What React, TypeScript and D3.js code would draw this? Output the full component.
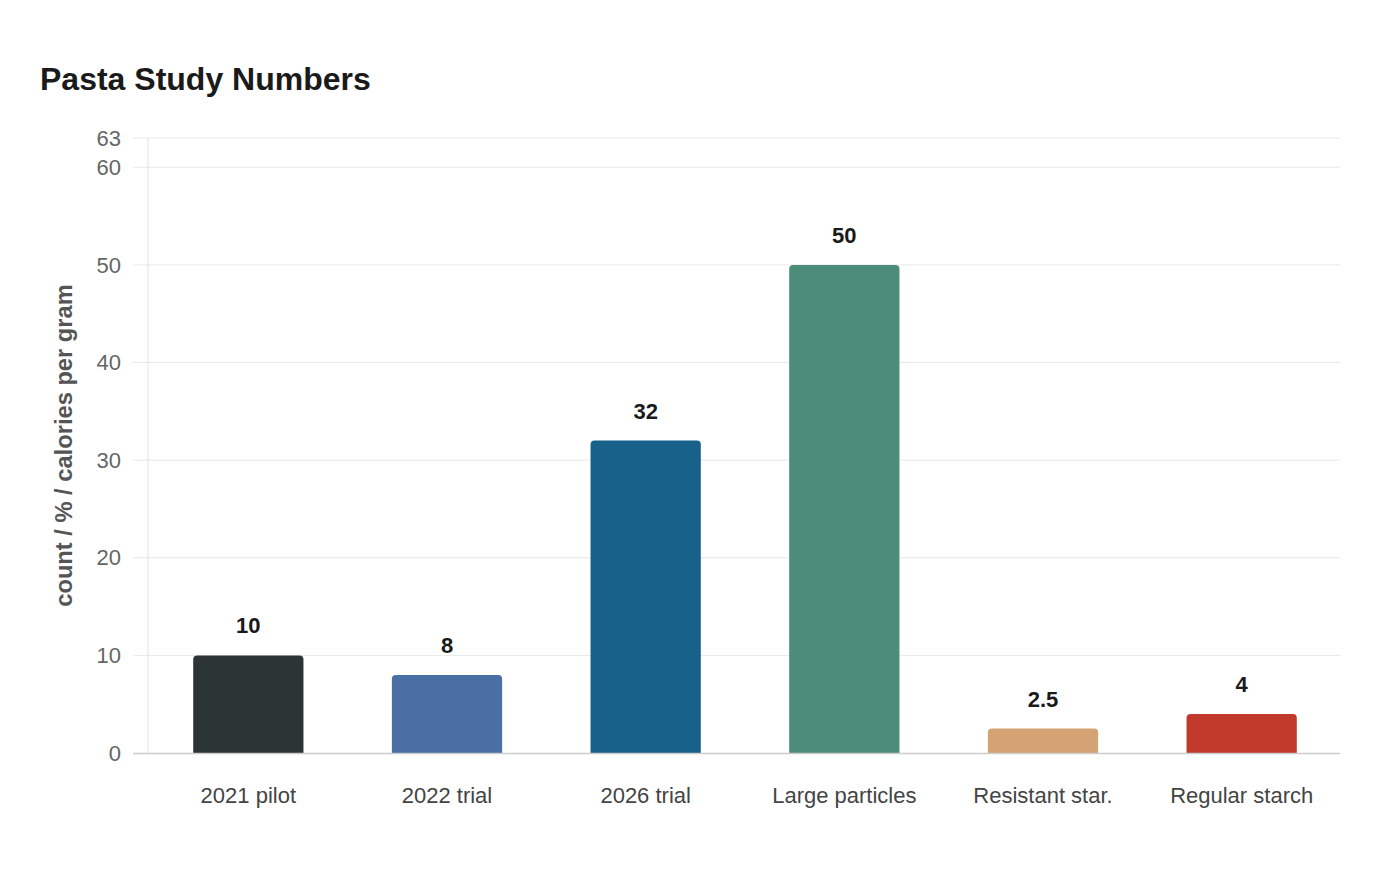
import { useEffect, useRef } from "react";
import * as d3 from "d3";

const categories = ["2021 pilot", "2022 trial", "2026 trial", "Large particles", "Resistant star.", "Regular starch"];
const values = [10, 8, 32, 50, 2.5, 4];
const valueLabels = ["10", "8", "32", "50", "2.5", "4"];
const barColors = ["#2d3436", "#4a6fa5", "#18618a", "#4e8c7a", "#d4a373", "#c0392b"];
const yTicks = [0, 10, 20, 30, 40, 50, 60, 63];
const yMax = 63;

const W = 1400;
const H = 880;
const margin = { top: 138, right: 60, bottom: 127, left: 148 };

// top-rounded bar path
function barPath(x: number, y: number, w: number, h: number, r: number) {
  const rr = Math.min(r, h, w / 2);
  return `M${x},${y + h}V${y + rr}Q${x},${y} ${x + rr},${y}H${x + w - rr}Q${x + w},${y} ${x + w},${y + rr}V${y + h}Z`;
}

const App = () => {
  const svgRef = useRef<SVGSVGElement>(null);

  useEffect(() => {
    const svg = d3.select(svgRef.current);
    svg.selectAll("*").remove();
    const font = "'Liberation Sans', Arial, sans-serif";

    const x = d3
      .scaleBand()
      .domain(categories)
      .range([margin.left, W - margin.right])
      .paddingInner(0.445)
      .paddingOuter(0.2225);
    const y = d3.scaleLinear().domain([0, yMax]).range([H - margin.bottom, margin.top]);

    // title
    svg
      .append("text")
      .attr("x", 40)
      .attr("y", 90)
      .attr("font-family", font)
      .attr("font-size", 32)
      .attr("font-weight", "bold")
      .attr("fill", "#1a1a1a")
      .text("Pasta Study Numbers");

    // gridlines
    svg
      .append("g")
      .selectAll("line")
      .data(yTicks.filter((t) => t > 0))
      .join("line")
      .attr("x1", margin.left - 15)
      .attr("x2", W - margin.right)
      .attr("y1", (d) => y(d))
      .attr("y2", (d) => y(d))
      .attr("stroke", "#e8e8e8")
      .attr("stroke-width", 1);

    // y axis line
    svg
      .append("line")
      .attr("x1", margin.left)
      .attr("x2", margin.left)
      .attr("y1", y(yMax))
      .attr("y2", y(0))
      .attr("stroke", "#e3e3e3");

    // y tick labels
    svg
      .append("g")
      .selectAll("text")
      .data(yTicks)
      .join("text")
      .attr("x", 121)
      .attr("y", (d) => y(d))
      .attr("dy", "0.35em")
      .attr("text-anchor", "end")
      .attr("font-family", font)
      .attr("font-size", 22)
      .attr("fill", "#666")
      .text((d) => d);

    // y axis title
    svg
      .append("text")
      .attr("transform", `translate(72,${(y(0) + y(yMax)) / 2}) rotate(-90)`)
      .attr("text-anchor", "middle")
      .attr("font-family", font)
      .attr("font-size", 23.7)
      .attr("font-weight", "bold")
      .attr("fill", "#555")
      .text("count / % / calories per gram");

    // bars
    svg
      .append("g")
      .selectAll("path")
      .data(values)
      .join("path")
      .attr("d", (d, i) =>
        barPath(x(categories[i])! + 1, y(d), x.bandwidth(), y(0) - y(d), 4)
      )
      .attr("fill", (d, i) => barColors[i]);

    // baseline
    svg
      .append("line")
      .attr("x1", margin.left - 15)
      .attr("x2", W - margin.right)
      .attr("y1", y(0) + 0.5)
      .attr("y2", y(0) + 0.5)
      .attr("stroke", "#cccccc")
      .attr("stroke-width", 1.5);

    // value labels
    svg
      .append("g")
      .selectAll("text")
      .data(values)
      .join("text")
      .attr("x", (d, i) => x(categories[i])! + 1 + x.bandwidth() / 2)
      .attr("y", (d) => y(d) - 22)
      .attr("text-anchor", "middle")
      .attr("font-family", font)
      .attr("font-size", 22)
      .attr("font-weight", "bold")
      .attr("fill", "#1a1a1a")
      .text((d, i) => valueLabels[i]);

    // x labels
    svg
      .append("g")
      .selectAll("text")
      .data(categories)
      .join("text")
      .attr("x", (d) => x(d)! + 1 + x.bandwidth() / 2)
      .attr("y", 803)
      .attr("text-anchor", "middle")
      .attr("font-family", font)
      .attr("font-size", 22)
      .attr("fill", "#444")
      .text((d) => d);
  }, []);

  return (
    <svg
      ref={svgRef}
      width={W}
      height={H}
      style={{ position: "absolute", left: 0, top: 0, background: "#fff" }}
    ></svg>
  );
};

export default App;
